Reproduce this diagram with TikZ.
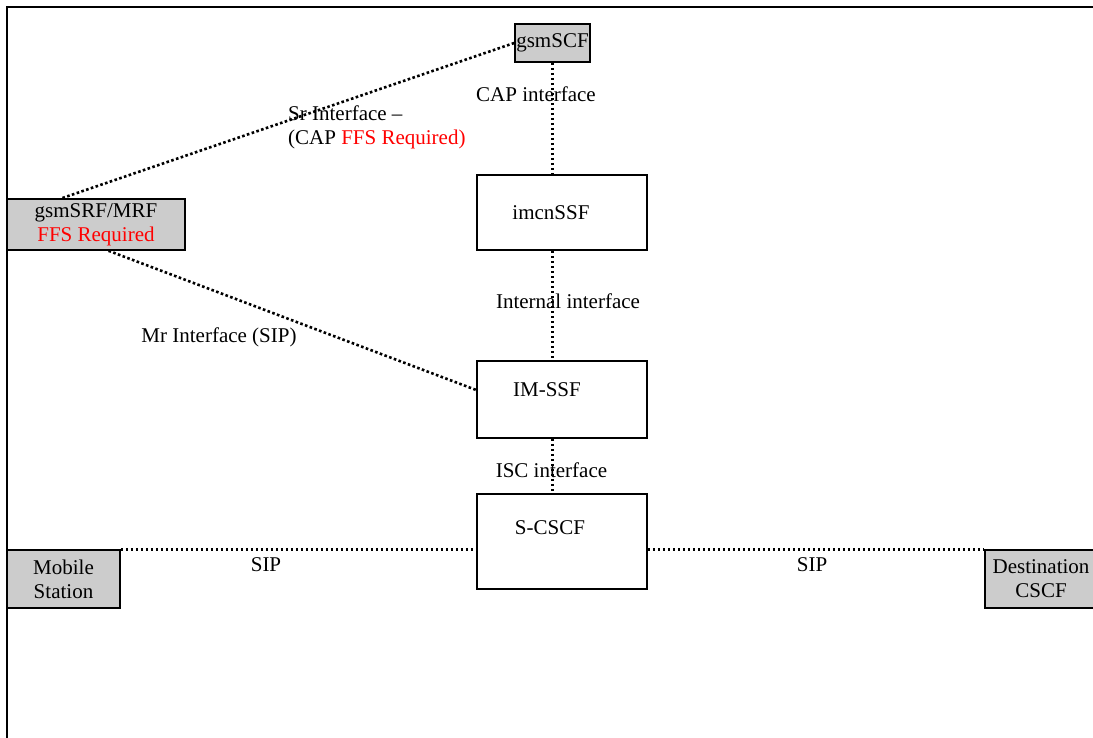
\documentclass[tikz,border=0pt]{standalone}
\usepackage{fontspec}
\setmainfont{Liberation Serif}
\usepackage{tikz}
\usetikzlibrary{calc,positioning}
\definecolor{boxgris}{RGB}{204,204,204}
\tikzset{
  gbox/.style={draw, line width=1.6pt, fill=boxgris, inner sep=1pt, align=center},
  wbox/.style={draw, line width=1.6pt, fill=white, minimum width=170pt},
  dotline/.style={line width=2.6pt, dash pattern=on 2.6pt off 2.4pt},
  lbl/.style={inner sep=0pt}
}
\begin{document}
\begin{tikzpicture}[x=1pt, y=-1pt, font=\fontsize{21}{24}\selectfont]
\useasboundingbox (0,0) rectangle (1093,738);
% marco
\draw[line width=2.2pt] (7,745) -- (7,7) -- (1100,7);
% cajas
\node[gbox, minimum width=75pt, minimum height=38pt] (scf) at (552.5,43) {gsmSCF};
\node[gbox, minimum width=178pt, minimum height=51pt] (srf) at (96,224.5) {gsmSRF/MRF\\\color{red}FFS Required};
\node[wbox, minimum height=75pt] (imcn) at (562,212.5) {};
\node[wbox, minimum height=77pt] (imssf) at (562,399.5) {};
\node[wbox, minimum height=95pt] (cscf) at (562,541.5) {};
\node[gbox, minimum width=113pt, minimum height=58pt] (ms) at (63.5,579) {Mobile\\Station};
\node[gbox, minimum width=112pt, minimum height=58pt] (dest) at (1041,579) {Destination\\CSCF};
\node[lbl] at ([xshift=-11pt]imcn.center) {imcnSSF};
\node[lbl] at ([xshift=-15pt,yshift=9.5pt]imssf.center) {IM-SSF};
\node[lbl] at ([xshift=-12pt,yshift=13.5pt]cscf.center) {S-CSCF};
% conexiones
\draw[dotline] (scf.west) -- ($(srf.north west)!0.31!(srf.north east)$);
\draw[dotline] ($(srf.south west)!0.57!(srf.south east)$) -- ([yshift=9.5pt]imssf.west);
\draw[dotline] (scf.south) -- (scf.south |- imcn.north);
\draw[dotline] (scf.south |- imcn.south) -- (scf.south |- imssf.north);
\draw[dotline] (scf.south |- imssf.south) -- (scf.south |- cscf.north);
\draw[dotline] (ms.north east) -- (ms.north east -| cscf.west);
\draw[dotline] (dest.north west -| cscf.east) -- (dest.north west);
% etiquetas
\node[lbl] (capif) at (536,94) {CAP interface};
\node[lbl, anchor=west, align=left] (srif) at (288,127.5) {Sr Interface --\\(CAP \textcolor{red}{FFS Required)}};
\node[lbl] (intif) at (568,301) {Internal interface};
\node[lbl] (mrif) at (219,337) {Mr Interface (SIP)};
\node[lbl] (iscif) at (551.5,470) {ISC interface};
\node[lbl] (sipa) at (266,565) {SIP};
\node[lbl] (sipb) at (812,565) {SIP};
\end{tikzpicture}
\end{document}
